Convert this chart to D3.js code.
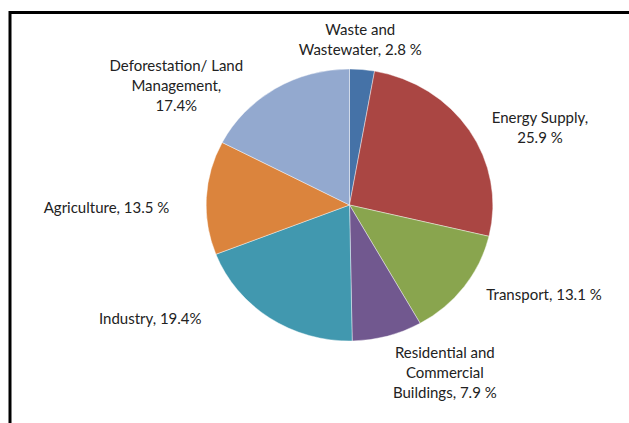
<!DOCTYPE html>
<html>
<head>
<meta charset="utf-8">
<script src="https://cdn.jsdelivr.net/npm/d3@7"></script>
<style>
  html, body { margin: 0; padding: 0; background: #fff; }
  svg { display: block; }
</style>
</head>
<body>
<main></main>
<script>
// data
const sectors = ['Waste and Wastewater', 'Energy Supply', 'Transport',
                 'Residential and Commercial Buildings', 'Industry',
                 'Agriculture', 'Deforestation/ Land Management']
const shares = [2.8, 25.9, 13.1, 7.9, 19.4, 13.5, 17.4]
const labelLines = [
    ['Waste and', 'Wastewater, 2.8 %'],
    ['Energy Supply,', '25.9 %'],
    ['Transport, 13.1 %'],
    ['Residential and', 'Commercial', 'Buildings, 7.9 %'],
    ['Industry, 19.4%'],
    ['Agriculture, 13.5 %'],
    ['Deforestation/ Land', 'Management,', '17.4%']
]
const sliceColors = ['#4572a7', '#aa4643', '#89a54e', '#71588f', '#4198af', '#db843d', '#93a9cf']

const size = { width: 629, height: 423 }
const centre = { x: 349.5, y: 205 }
const radius = 136
const stretch = 1.054   // the picture is a little wider than tall
const lineH = 20
const capH = 10.5

// nudges from the outer label ring to where Excel put each label
const nudge = [[-6, 15], [31, 22], [42, -19], [45, -7], [-93, -37], [-52.5, 12], [-74, 35]]

const svg = d3.select('main')
    .append('svg')
    .attr('width', size.width)
    .attr('height', size.height)

// frame (top and left edges are all that show)
svg.append('path')
    .attr('d', `M10,${size.height} V12.5 H${size.width}`)
    .attr('fill', 'none')
    .attr('stroke', '#000')
    .attr('stroke-width', 3)

const rows = sectors.map((s, i) => ({ sector: s, share: shares[i], lines: labelLines[i], i }))

const pie = d3.pie().value(d => d.share).sort(null)
const arc = d3.arc().innerRadius(0).outerRadius(radius)
const labelArc = d3.arc().innerRadius(radius + 45).outerRadius(radius + 45)
const colour = d3.scaleOrdinal().domain(sectors).range(sliceColors)

const arcs = pie(rows)

svg.append('g')
    .attr('transform', `translate(${centre.x},${centre.y}) scale(${stretch},1)`)
    .selectAll('path')
    .data(arcs)
    .enter()
        .append('path')
        .attr('d', arc)
        .attr('fill', d => colour(d.data.sector))
        .attr('stroke', '#fff')
        .attr('stroke-opacity', 0.6)
        .attr('stroke-width', 0.7)
        .attr('vector-effect', 'non-scaling-stroke')

const labels = svg.append('g')
    .attr('font-family', 'Lato, "Open Sans", sans-serif')
    .attr('font-size', 15)
    .attr('fill', '#222')
    .attr('text-anchor', 'middle')

arcs.forEach(d => {
    const [lx, ly] = labelArc.centroid(d)
    const x = centre.x + lx * stretch + nudge[d.data.i][0]
    const yc = centre.y + ly + nudge[d.data.i][1]
    const n = d.data.lines.length
    const first = yc - (n - 1) * lineH / 2 + capH / 2
    const t = labels.append('text')
        .attr('x', x)
        .attr('y', first)
    d.data.lines.forEach((line, j) => {
        t.append('tspan')
            .attr('x', x)
            .attr('y', first + j * lineH)
            .text(line)
    })
})
</script>
</body>
</html>
